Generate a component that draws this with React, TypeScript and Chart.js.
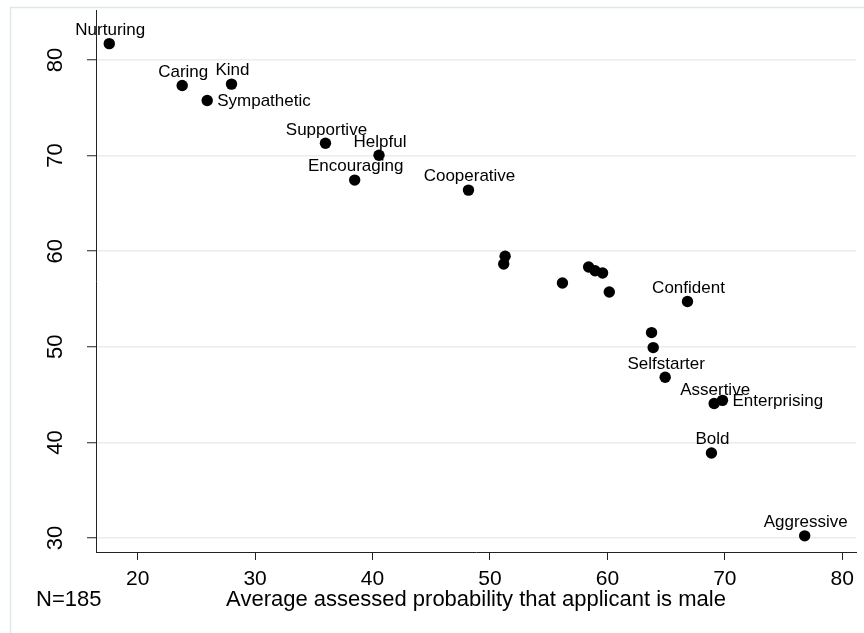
import React, { useEffect, useRef } from "react";
import { Chart, registerables } from "chart.js";

Chart.register(...registerables);

const labels = [
  "Nurturing", "Caring", "Kind", "Sympathetic", "Supportive", "Helpful", "Encouraging", "Cooperative",
  "", "", "", "", "", "", "",
  "Confident", "", "", "Selfstarter", "Assertive", "Enterprising", "Bold", "Aggressive",
];
const xValues = [
  17.58, 23.79, 27.99, 25.92, 35.99, 40.55, 38.48, 48.17,
  51.29, 51.17, 56.17, 58.4, 58.95, 59.59, 60.16,
  66.82, 63.76, 63.9, 64.92, 69.09, 69.8, 68.86, 76.8,
];
const yValues = [
  81.71, 77.34, 77.48, 75.77, 71.29, 70.03, 67.44, 66.39,
  59.47, 58.67, 56.67, 58.35, 57.96, 57.72, 55.73,
  54.74, 51.49, 49.92, 46.81, 44.08, 44.4, 38.9, 30.23,
];
const labelPos = [
  "top", "top", "top", "right", "top", "top", "top", "top",
  "", "", "", "", "", "", "",
  "top", "", "", "top", "top", "right", "top", "top",
];
const xTicks = [20, 30, 40, 50, 60, 70, 80];
const yTicks = [30, 40, 50, 60, 70, 80];
const xTitle = "Average assessed probability that applicant is male";
const noteText = "N=185";

const FONT = "'Liberation Sans', Arial, Helvetica, sans-serif";

export default function App() {
  const ref = useRef<HTMLCanvasElement | null>(null);
  useEffect(() => {
    if (!ref.current) return;
    const textPlugin = {
      id: "textPlugin",
      beforeDraw(chart: any) {
        const ctx = chart.ctx;
        ctx.save();
        ctx.fillStyle = "#ffffff";
        ctx.fillRect(0, 0, chart.width, chart.height);
        ctx.strokeStyle = "#dde8ec";
        ctx.lineWidth = 1.5;
        ctx.beginPath();
        ctx.moveTo(10.5, chart.height);
        ctx.lineTo(10.5, 7.5);
        ctx.lineTo(chart.width, 7.5);
        ctx.stroke();
        ctx.restore();
      },
      afterDraw(chart: any) {
        const ctx = chart.ctx;
        const xs = chart.scales.x;
        const ys = chart.scales.y;
        const area = chart.chartArea;
        ctx.save();
        ctx.fillStyle = "#000";
        // x tick labels
        ctx.font = `21px ${FONT}`;
        ctx.textAlign = "center";
        ctx.textBaseline = "alphabetic";
        xTicks.forEach((v) => {
          ctx.fillText(String(v), xs.getPixelForValue(v), 585);
        });
        // y tick labels rotated
        ctx.font = `22px ${FONT}`;
        yTicks.forEach((v) => {
          ctx.save();
          ctx.translate(61.5, ys.getPixelForValue(v));
          ctx.rotate(-Math.PI / 2);
          ctx.fillText(String(v), 0, 0);
          ctx.restore();
        });
        // title
        ctx.font = `22px ${FONT}`;
        ctx.fillText(xTitle, (area.left + area.right) / 2, 606);
        ctx.textAlign = "left";
        ctx.fillText(noteText, 36, 606);
        // point labels
        ctx.font = `17px ${FONT}`;
        labels.forEach((lab, i) => {
          if (!lab) return;
          const px = xs.getPixelForValue(xValues[i]);
          const py = ys.getPixelForValue(yValues[i]);
          if (labelPos[i] === "right") {
            ctx.textAlign = "left";
            ctx.fillText(lab, px + 10, py + 6);
          } else {
            ctx.textAlign = "center";
            ctx.fillText(lab, px + 1, py - 8.7);
          }
        });
        ctx.restore();
      },
    };
    const chart = new Chart(ref.current, {
      type: "scatter",
      data: {
        datasets: [
          {
            data: xValues.map((x, i) => ({ x, y: yValues[i] })),
            pointRadius: 5.7,
            pointBackgroundColor: "#000",
            pointBorderWidth: 0,
            pointHoverRadius: 5.7,
          },
        ],
      },
      options: {
        responsive: false,
        animation: false,
        events: [],
        layout: { padding: { left: 87, right: 8, top: 10, bottom: 73 } },
        plugins: { legend: { display: false }, tooltip: { enabled: false } },
        scales: {
          x: {
            type: "linear",
            min: 16.45,
            max: 81.17,
            afterBuildTicks: (s: any) => {
              s.ticks = xTicks.map((v) => ({ value: v }));
            },
            ticks: { display: false },
            grid: {
              drawOnChartArea: false,
              drawTicks: true,
              tickLength: 8,
              tickColor: "#222",
              tickWidth: 1,
            },
            border: { display: true, color: "#222", width: 1 },
          },
          y: {
            type: "linear",
            min: 28.54,
            max: 85.23,
            afterBuildTicks: (s: any) => {
              s.ticks = yTicks.map((v) => ({ value: v }));
            },
            ticks: { display: false },
            grid: {
              color: "#e6eef1",
              lineWidth: 1.5,
              drawTicks: true,
              tickLength: 9,
              tickColor: "#222",
              tickWidth: 1,
            },
            border: { display: true, color: "#222", width: 1 },
          },
        },
      },
      plugins: [textPlugin],
    });
    return () => chart.destroy();
  }, []);
  return (
    <div style={{ position: "absolute", left: 0, top: 0, width: 864, height: 633 }}>
      <canvas ref={ref} width={864} height={633} style={{ display: "block" }} />
    </div>
  );
}
